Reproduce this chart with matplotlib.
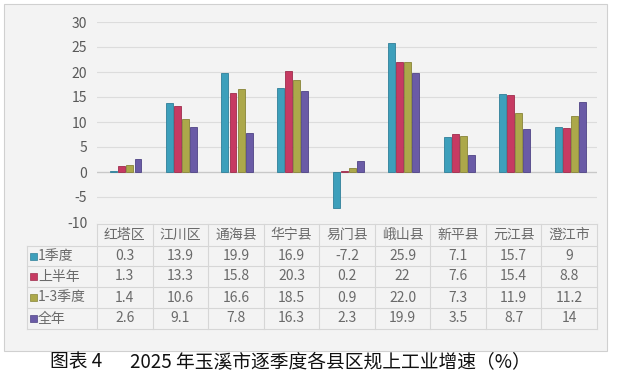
import matplotlib
matplotlib.use("Agg")
import matplotlib.pyplot as plt
from matplotlib.patches import Rectangle
from matplotlib.lines import Line2D
import numpy as np

plt.rcParams['font.family'] = ['Noto Sans CJK SC', 'DejaVu Sans']

categories = ["红塔区", "江川区", "通海县", "华宁县", "易门县", "峨山县", "新平县", "元江县", "澄江市"]
series_names = ["1季度", "上半年", "1-3季度", "全年"]
q1 = [0.3, 13.9, 19.9, 16.9, -7.2, 25.9, 7.1, 15.7, 9]
h1 = [1.3, 13.3, 15.8, 20.3, 0.2, 22, 7.6, 15.4, 8.8]
q3 = [1.4, 10.6, 16.6, 18.5, 0.9, 22.0, 7.3, 11.9, 11.2]
fy = [2.6, 9.1, 7.8, 16.3, 2.3, 19.9, 3.5, 8.7, 14]
table_text = [
    ["0.3", "13.9", "19.9", "16.9", "-7.2", "25.9", "7.1", "15.7", "9"],
    ["1.3", "13.3", "15.8", "20.3", "0.2", "22", "7.6", "15.4", "8.8"],
    ["1.4", "10.6", "16.6", "18.5", "0.9", "22.0", "7.3", "11.9", "11.2"],
    ["2.6", "9.1", "7.8", "16.3", "2.3", "19.9", "3.5", "8.7", "14"],
]
yticks = [-10, -5, 0, 5, 10, 15, 20, 25, 30]
caption_label = "图表 4"
caption_title = "2025 年玉溪市逐季度各县区规上工业增速（%）"

colors = ["#3D9FBB", "#C63A62", "#ACA84A", "#6A5BA6"]
edges = ["#2F7F99", "#9E2C4C", "#878437", "#4F4385"]

W, H = 620, 382
fig = plt.figure(figsize=(W / 100, H / 100), dpi=100)
fig.patch.set_facecolor("white")

def fx(px):
    return px / W

def fy_(py):
    return 1 - py / H

# outer chart box
fig.patches.append(Rectangle((fx(4), fy_(351)), fx(603), 347 / H, transform=fig.transFigure,
                             facecolor="#F3F3F3", edgecolor="#D0D0D0", linewidth=0.8, zorder=-5))

ax_left, ax_right = 97, 597
ax_top, ax_bot = 22, 222
ax = fig.add_axes([fx(ax_left), fy_(ax_bot), fx(ax_right - ax_left), (ax_bot - ax_top) / H])
ax.set_zorder(2)
ax.set_facecolor("none")
n = len(categories)
x = np.arange(n)
bw = 0.125
step = 0.145
data = [q1, h1, q3, fy]
for i, vals in enumerate(data):
    ax.bar(x + (i - 1.5) * step + 0.02, vals, width=bw, color=colors[i], edgecolor=edges[i],
           linewidth=0.6, zorder=3)
ax.set_xlim(-0.5, n - 0.5)
ax.set_ylim(-10, 30)
ax.set_yticks(yticks)
ax.set_yticklabels([str(t) for t in yticks], fontsize=10, color="#595959")
ax.tick_params(axis='y', length=0, pad=7)
ax.set_xticks([])
for s in ax.spines.values():
    s.set_visible(False)
ax.grid(axis='y', color="#DCDCDC", linewidth=0.8, zorder=0)
ax.axhline(0, color="#C8C8C8", linewidth=0.9, zorder=2)

# table
tbl_left = 27
col_w = (ax_right - ax_left) / n
row_lines = [224, 246, 266, 287, 308, 329]
line_c = "#D6D6D6"
fig.lines.append(Line2D([fx(ax_left), fx(ax_right)], [fy_(row_lines[0])] * 2, transform=fig.transFigure,
                        color=line_c, linewidth=0.8))
for r in row_lines[1:]:
    fig.lines.append(Line2D([fx(tbl_left), fx(ax_right)], [fy_(r)] * 2, transform=fig.transFigure,
                            color=line_c, linewidth=0.8))
fig.lines.append(Line2D([fx(tbl_left)] * 2, [fy_(row_lines[1]), fy_(row_lines[-1])], transform=fig.transFigure,
                        color=line_c, linewidth=0.8))
for j in range(n + 1):
    xx = ax_left + j * col_w
    fig.lines.append(Line2D([fx(xx)] * 2, [fy_(row_lines[0]), fy_(row_lines[-1])], transform=fig.transFigure,
                            color=line_c, linewidth=0.8))
txt_c = "#6A6A6A"
for j, c in enumerate(categories):
    cx = ax_left + (j + 0.5) * col_w
    fig.text(fx(cx), fy_((row_lines[0] + row_lines[1]) / 2), c, ha="center", va="center",
             fontsize=10, color=txt_c)
for i, name in enumerate(series_names):
    cy = (row_lines[i + 1] + row_lines[i + 2]) / 2
    fig.patches.append(Rectangle((fx(tbl_left + 3), fy_(cy + 3.5)), fx(7), 7 / H, transform=fig.transFigure,
                                 facecolor=colors[i], edgecolor=edges[i], linewidth=0.5))
    fig.text(fx(tbl_left + 11), fy_(cy), name, ha="left", va="center", fontsize=10, color=txt_c)
    for j in range(n):
        cx = ax_left + (j + 0.5) * col_w
        fig.text(fx(cx), fy_(cy), table_text[i][j], ha="center", va="center", fontsize=10, color=txt_c)

fig.text(fx(50), fy_(362), caption_label, ha="left", va="center", fontsize=13.5, color="#111111")
fig.text(fx(130), fy_(362), caption_title, ha="left", va="center", fontsize=13.5, color="#111111")

fig.savefig("out.png", dpi=100)
